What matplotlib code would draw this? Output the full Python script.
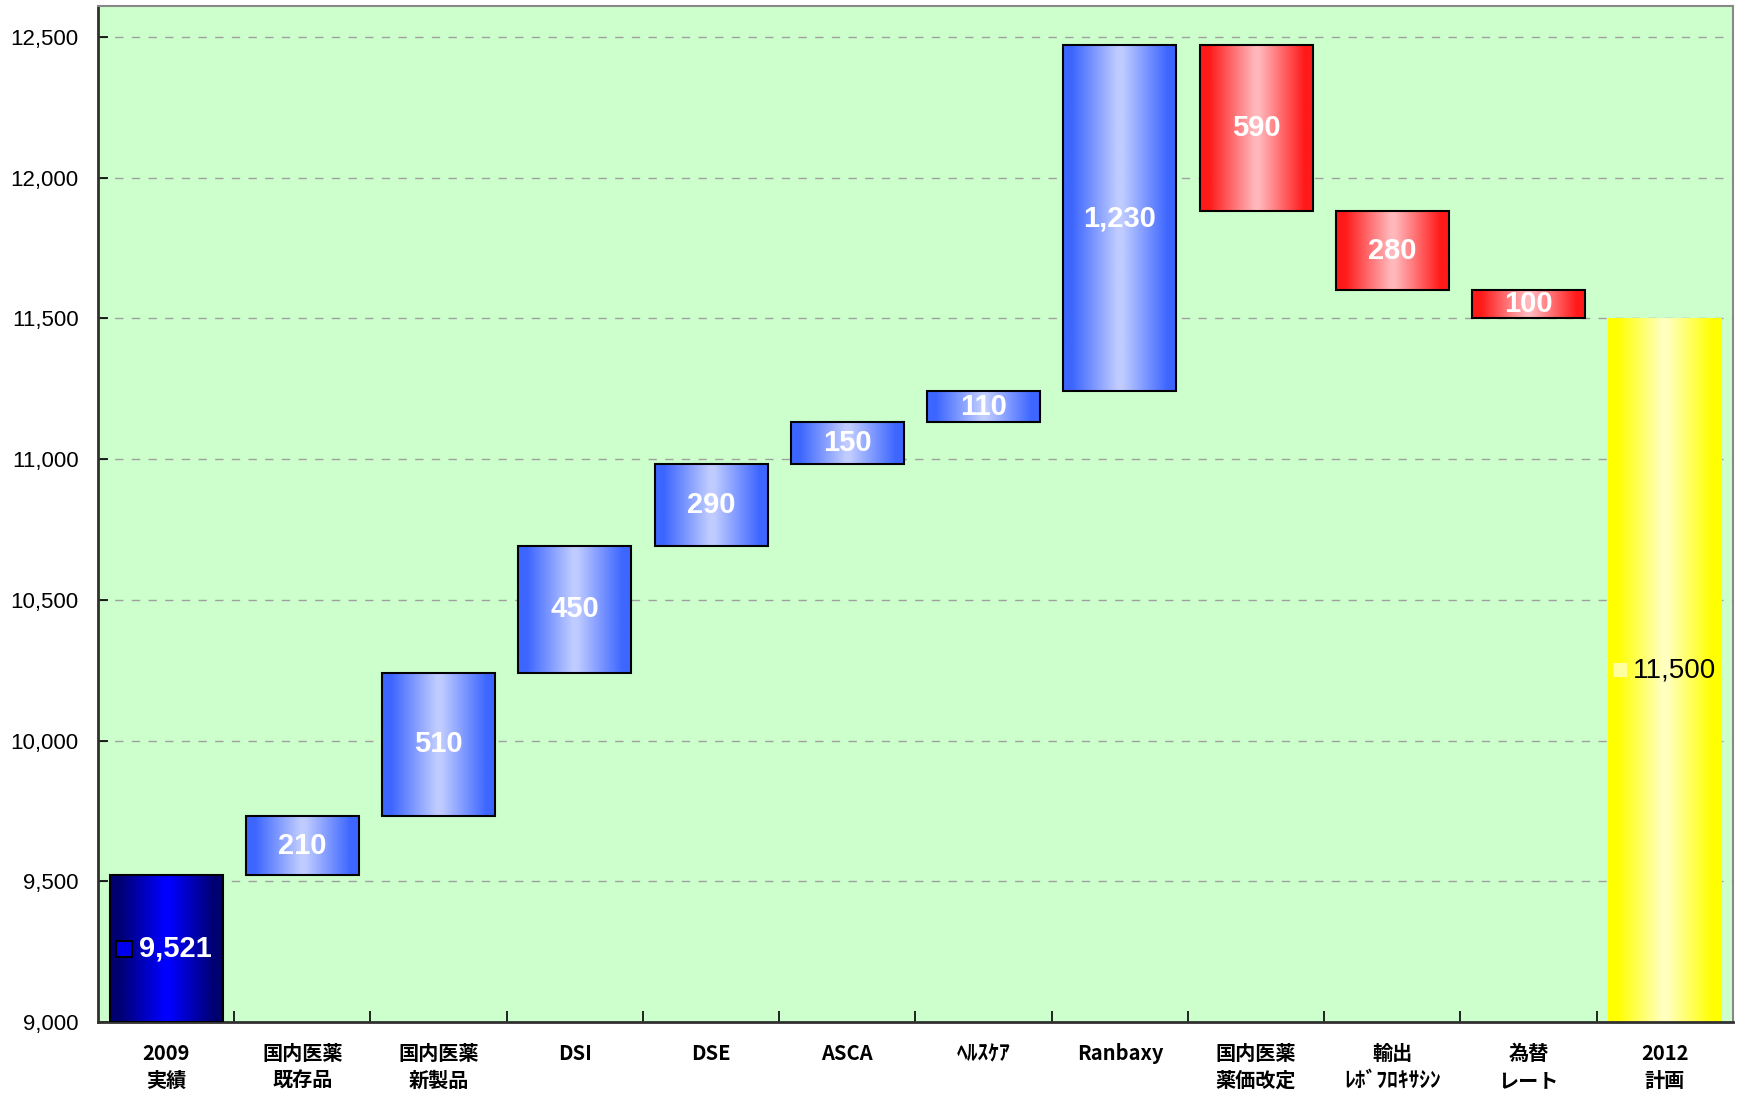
import numpy as np
import matplotlib
matplotlib.use("Agg")
import matplotlib.pyplot as plt
from matplotlib.colors import LinearSegmentedColormap
from matplotlib.ticker import MultipleLocator, FuncFormatter

categories = ["2009\n実績", "国内医薬\n既存品", "国内医薬\n新製品", "DSI", "DSE", "ASCA",
              "ﾍﾙｽｹｱ", "Ranbaxy", "国内医薬\n薬価改定", "輸出\nﾚﾎﾞﾌﾛｷｻｼﾝ", "為替\nレート", "2012\n計画"]
start_value = 9521
increases = [210, 510, 450, 290, 150, 110, 1230]
decreases = [590, 280, 100]
end_value = 11500
y_min, y_max = 9000, 12610

plt.rcParams['font.family'] = ['Liberation Sans', 'Noto Sans CJK JP', 'DejaVu Sans']

fig = plt.figure(figsize=(17.4, 10.94), dpi=100)
ax = fig.add_axes([98/1740, 1 - 1022/1094, (1733-98)/1740, (1022-6)/1094])
ax.set_facecolor("#CCFFCC")
ax.set_xlim(-0.5, len(categories) - 0.5)
ax.set_ylim(y_min, y_max)

def grad_cmap(edge, center):
    return LinearSegmentedColormap.from_list(
        "g", [(0.0, edge), (0.08, edge), (0.48, center), (0.52, center), (0.92, edge), (1.0, edge)])

cm_total = grad_cmap("#000070", "#0000FF")
cm_up = grad_cmap("#3D66FF", "#C0CCFF")
cm_down = grad_cmap("#FF1A1A", "#FFB8BC")
cm_end = grad_cmap("#FFFF00", "#FFFFC0")

bar_w = 0.83
grad = np.linspace(0, 1, 256).reshape(1, -1)

def draw_bar(i, bottom, top, cmap, edge=True):
    ax.imshow(grad, cmap=cmap, extent=(i - bar_w/2, i + bar_w/2, bottom, top),
              aspect="auto", zorder=2, interpolation="bilinear")
    if edge:
        ax.bar(i, top - bottom, bottom=bottom, width=bar_w, facecolor="none",
               edgecolor="black", linewidth=1.5, zorder=3)

def label(i, bottom, top, text, color="white", size=21):
    ax.text(i, (bottom + top) / 2, text, ha="center", va="center",
            color=color, fontsize=size, fontweight="bold", zorder=4)

# start bar
draw_bar(0, y_min, start_value, cm_total)
ymid = (y_min + start_value) / 2
ax.text(0.07, ymid, f"{start_value:,}", ha="center", va="center", color="white",
        fontsize=21, fontweight="bold", zorder=4)
ax.scatter([-0.31], [ymid], marker="s", s=130, color="#0000EE", edgecolor="black",
           linewidth=1.5, zorder=4)

level = start_value
idx = 1
for v in increases:
    draw_bar(idx, level, level + v, cm_up)
    label(idx, level, level + v, f"{v:,}")
    level += v
    idx += 1
for v in decreases:
    draw_bar(idx, level - v, level, cm_down)
    label(idx, level - v, level, f"{v:,}")
    level -= v
    idx += 1

draw_bar(idx, y_min, end_value, cm_end, edge=False)
ymid = (y_min + end_value) / 2
ax.text(idx + 0.07, ymid, f"{end_value:,}", ha="center", va="center", color="black",
        fontsize=20, zorder=4)
ax.scatter([idx - 0.33], [ymid], marker="s", s=110, color="#FFFFA0", zorder=4, linewidth=0)

ax.set_xlim(-0.5, len(categories) - 0.5)
ax.set_ylim(y_min, y_max)

# grid
ax.yaxis.set_major_locator(MultipleLocator(500))
ax.yaxis.set_major_formatter(FuncFormatter(lambda v, p: f"{int(v):,}"))
for yv in np.arange(9500, 12501, 500):
    ax.axhline(yv, color="#A0A0A0", linestyle=(0, (6, 6)), linewidth=1.0, zorder=1)

ax.tick_params(axis="y", direction="in", length=7, width=1.2, labelsize=16, pad=14)

# category labels
cjk = ['Noto Sans CJK JP', 'DejaVu Sans']
ax.set_xticks(np.arange(len(categories)))
ax.set_xticklabels([""] * len(categories))
ax.tick_params(axis="x", which="major", length=0)
xtr = ax.get_xaxis_transform()
for i, cat in enumerate(categories):
    for j, line in enumerate(cat.split("\n")):
        halfwidth = any(0xFF61 <= ord(c) <= 0xFF9F for c in line)
        ax.annotate(line, xy=(i, 0), xycoords=xtr, xytext=(0, -23 - 19 * j),
                    textcoords="offset points", ha="center", va="center",
                    fontsize=15.5 if halfwidth else 14.5, fontweight="bold",
                    family=cjk, annotation_clip=False)

ax.set_xticks(np.arange(len(categories) - 1) + 0.5, minor=True)
ax.tick_params(axis="x", which="minor", direction="in", length=8, width=1.2)

for s in ["left", "bottom"]:
    ax.spines[s].set_color("#303030")
    ax.spines[s].set_linewidth(2)
for s in ["top", "right"]:
    ax.spines[s].set_color("#888888")
    ax.spines[s].set_linewidth(1.5)

fig.savefig("out.png", dpi=100, facecolor="white")
